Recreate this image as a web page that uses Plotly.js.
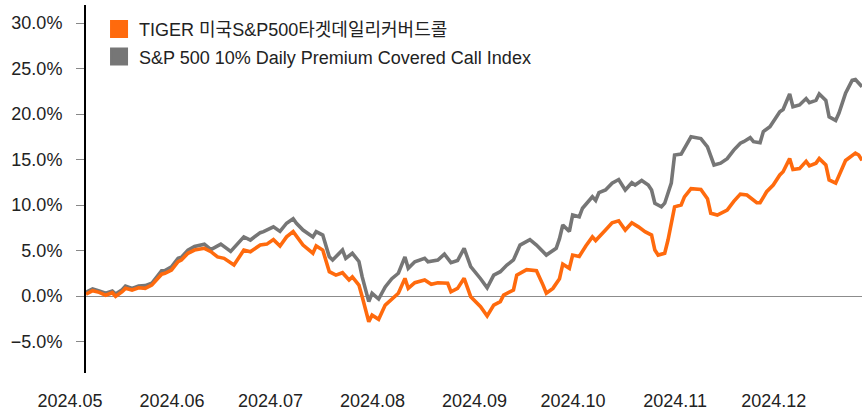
<!DOCTYPE html>
<html><head><meta charset="utf-8">
<script src="https://cdn.plot.ly/plotly-3.0.1.min.js"></script>
<style>html,body{margin:0;padding:0;background:#fff}#chart{width:862px;height:410px}</style>
</head><body><div id="chart"></div>
<script>
const seriesNames = ['TIGER 미국S&P500타겟데일리커버드콜', 'S&P 500 10% Daily Premium Covered Call Index'];

const tigerDates = ['2024-05-01','2024-05-03','2024-05-05','2024-05-07','2024-05-09','2024-05-10','2024-05-12','2024-05-13','2024-05-15','2024-05-17','2024-05-19','2024-05-21','2024-05-24','2024-05-25','2024-05-27','2024-05-29','2024-05-30',
'2024-06-01','2024-06-03','2024-06-06','2024-06-08','2024-06-10','2024-06-12','2024-06-15','2024-06-18','2024-06-20','2024-06-23','2024-06-25','2024-06-27','2024-06-29',
'2024-07-01','2024-07-03','2024-07-06','2024-07-09','2024-07-10','2024-07-12','2024-07-14','2024-07-16','2024-07-18','2024-07-20','2024-07-21','2024-07-23','2024-07-24','2024-07-26','2024-07-27','2024-07-29','2024-07-31',
'2024-08-02','2024-08-04','2024-08-06','2024-08-07','2024-08-09','2024-08-12','2024-08-14','2024-08-16','2024-08-19','2024-08-20','2024-08-22','2024-08-24','2024-08-26','2024-08-29','2024-08-31',
'2024-09-02','2024-09-04','2024-09-05','2024-09-08','2024-09-09','2024-09-12','2024-09-15','2024-09-17','2024-09-18','2024-09-20','2024-09-22','2024-09-23','2024-09-25','2024-09-26','2024-09-28','2024-09-30',
'2024-10-02','2024-10-03','2024-10-05','2024-10-06','2024-10-08','2024-10-10','2024-10-12','2024-10-14','2024-10-16','2024-10-18','2024-10-20','2024-10-21','2024-10-22','2024-10-24','2024-10-25','2024-10-27','2024-10-29','2024-10-30',
'2024-11-01','2024-11-04','2024-11-06','2024-11-07','2024-11-09','2024-11-12','2024-11-14','2024-11-16','2024-11-18','2024-11-21','2024-11-22','2024-11-24','2024-11-26','2024-11-28','2024-11-29',
'2024-12-01','2024-12-02','2024-12-04','2024-12-06','2024-12-07','2024-12-09','2024-12-10','2024-12-12','2024-12-13','2024-12-15','2024-12-16','2024-12-18','2024-12-21','2024-12-22','2024-12-23'];

const tigerValues = [0.2,0.58,0.4,0.08,0.36,-0.03,0.47,0.84,0.66,0.91,0.84,1.2,2.4,2.5,2.86,3.77,3.96,
4.69,5.05,5.24,4.87,4.3,4.14,3.4,5.05,4.87,5.6,5.7,6.2,5.5,
6.5,7.07,5.6,4.7,5.5,5.05,2.67,2.3,2.56,1.76,2.1,1.2,-0.07,-2.82,-2.1,-2.56,-1.0,
-0.36,0.3,1.94,0.84,1.46,1.76,1.28,1.46,1.4,0.47,0.84,1.94,-0.07,-1.17,-2.2,
-1.0,-0.62,0.1,0.66,2.3,2.9,2.78,1.2,0.3,0.84,1.9,3.5,3.04,4.5,4.35,5.5,
6.5,6.1,6.96,7.25,8.05,8.27,7.25,8.05,7.6,7.07,6.7,5.05,4.5,4.7,6.15,9.8,10.0,10.9,
11.8,11.7,10.7,9.1,8.9,9.45,10.4,11.2,11.1,10.25,10.25,11.46,12.2,13.3,13.66,
15.1,13.9,14.0,14.8,14.3,14.6,15.1,14.4,12.75,12.4,13.3,14.9,15.7,15.5,14.9];

const indexDates = ['2024-05-01','2024-05-03','2024-05-05','2024-05-07','2024-05-09','2024-05-10','2024-05-12','2024-05-13','2024-05-15','2024-05-17','2024-05-19','2024-05-21','2024-05-24','2024-05-25','2024-05-27','2024-05-29','2024-05-30',
'2024-06-01','2024-06-03','2024-06-06','2024-06-08','2024-06-11','2024-06-14','2024-06-18','2024-06-20','2024-06-23','2024-06-24','2024-06-27','2024-06-29',
'2024-07-01','2024-07-03','2024-07-04','2024-07-06','2024-07-09','2024-07-10','2024-07-12','2024-07-14','2024-07-15','2024-07-18','2024-07-19','2024-07-21','2024-07-23','2024-07-24','2024-07-26','2024-07-27','2024-07-29','2024-07-31',
'2024-08-02','2024-08-04','2024-08-06','2024-08-07','2024-08-09','2024-08-12','2024-08-13','2024-08-16','2024-08-18','2024-08-20','2024-08-22','2024-08-24','2024-08-26','2024-08-29','2024-08-31',
'2024-09-02','2024-09-04','2024-09-06','2024-09-08','2024-09-10','2024-09-13','2024-09-15','2024-09-18','2024-09-21','2024-09-22','2024-09-23','2024-09-25','2024-09-26','2024-09-28','2024-09-29',
'2024-10-02','2024-10-03','2024-10-04','2024-10-06','2024-10-08','2024-10-10','2024-10-12','2024-10-14','2024-10-15','2024-10-17','2024-10-19','2024-10-20','2024-10-21','2024-10-23','2024-10-24','2024-10-26','2024-10-27','2024-10-29','2024-10-31',
'2024-11-01','2024-11-04','2024-11-06','2024-11-08','2024-11-10','2024-11-12','2024-11-14','2024-11-16','2024-11-17','2024-11-19','2024-11-20','2024-11-22','2024-11-23','2024-11-25','2024-11-26','2024-11-28','2024-11-29',
'2024-12-01','2024-12-02','2024-12-04','2024-12-06','2024-12-07','2024-12-09','2024-12-10','2024-12-12','2024-12-13','2024-12-15','2024-12-16','2024-12-18','2024-12-20','2024-12-21','2024-12-23'];

const indexValues = [0.4,0.77,0.55,0.3,0.55,0.22,0.7,1.1,0.84,1.1,1.14,1.4,2.78,2.8,3.2,4.14,4.25,
5.05,5.45,5.7,5.1,5.7,4.9,6.5,6.15,6.96,7.07,7.6,7.1,
8.0,8.5,8.0,7.25,6.5,7.07,6.7,4.3,3.96,5.05,4.14,4.7,3.8,2.1,-0.62,0.3,-0.33,1.0,
1.9,2.5,4.3,3.04,3.77,4.14,3.77,3.96,4.6,3.66,3.9,5.24,3.22,1.9,0.9,
2.3,2.67,3.4,3.96,5.6,6.2,5.6,4.5,5.24,6.3,7.8,7.1,8.9,8.7,9.65,
10.9,10.5,11.36,11.65,12.4,12.8,11.65,12.45,12.2,12.7,12.2,11.65,10.2,9.8,10.2,12.4,15.5,15.6,16.8,
17.5,17.3,16.4,14.4,14.6,15.1,16.04,16.8,16.96,17.4,16.96,16.85,18.07,18.6,19.2,20.25,20.5,
22.2,20.8,21.0,21.7,21.25,21.5,22.2,21.5,19.7,19.3,20.1,22.3,23.7,23.8,23.0];

const monthTicks = ['2024-05-01','2024-06-01','2024-07-01','2024-08-01','2024-09-01','2024-10-01','2024-11-01','2024-12-01'];
const monthLabels = ['2024.05','2024.06','2024.07','2024.08','2024.09','2024.10','2024.11','2024.12'];
const yTicks = [-5,0,5,10,15,20,25,30];
const yTickLabels = ['\u22125.0%','0.0%','5.0%','10.0%','15.0%','20.0%','25.0%','30.0%'];

const ORANGE = '#FF6A0D';
const GRAY = '#767676';
const FONT = 'Liberation Sans, Arial, Noto Sans CJK KR, sans-serif';

const traces = [
  {x: indexDates, y: indexValues, type: 'scatter', mode: 'lines', line: {color: GRAY, width: 3.6}, showlegend: false, hoverinfo: 'skip'},
  {x: tigerDates, y: tigerValues, type: 'scatter', mode: 'lines', line: {color: ORANGE, width: 3.6}, showlegend: false, hoverinfo: 'skip'},
  {x: [null], y: [null], type: 'scatter', mode: 'markers', name: seriesNames[0], legendgroup: 'a', marker: {symbol: 'square', size: 16, color: ORANGE, line: {color: ORANGE, width: 2}}},
  {x: [null], y: [null], type: 'scatter', mode: 'markers', name: seriesNames[1], legendgroup: 'b', marker: {symbol: 'square', size: 16, color: GRAY, line: {color: GRAY, width: 2}}}
];

const layout = {
  width: 862, height: 410,
  margin: {l: 86, r: 0, t: 5, b: 37},
  paper_bgcolor: '#fff', plot_bgcolor: '#fff',
  font: {family: FONT, size: 18, color: '#222'},
  showlegend: true,
  legend: {x: 0.0168, y: 0.984, xanchor: 'left', yanchor: 'top', bgcolor: 'rgba(0,0,0,0)', font: {size: 18, color: '#222'}, traceorder: 'grouped', tracegroupgap: 1},
  xaxis: {
    type: 'date', range: ['2024-05-01', '2024-12-23'],
    tickmode: 'array', tickvals: monthTicks, ticktext: monthLabels,
    ticks: '', showline: false, showgrid: false, zeroline: false,
    ticklabelshift: -16, ticklabelstandoff: 15,
    tickfont: {size: 18, color: '#222'}
  },
  yaxis: {
    range: [-8.46, 31.98],
    tickmode: 'array', tickvals: yTicks, ticktext: yTickLabels,
    ticks: 'outside', ticklen: 8, tickcolor: '#888', tickwidth: 1,
    showline: true, linecolor: '#000', linewidth: 2,
    showgrid: false, zeroline: true, zerolinecolor: '#8c8c8c', zerolinewidth: 1,
    ticklabelstandoff: 10,
    tickfont: {size: 18, color: '#222'}
  }
};

Plotly.newPlot('chart', traces, layout, {displayModeBar: false, staticPlot: true});
</script>
</body></html>
